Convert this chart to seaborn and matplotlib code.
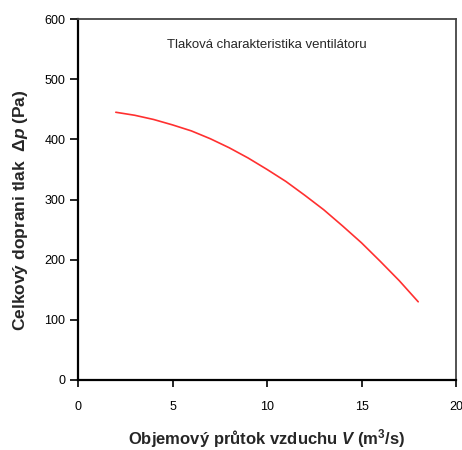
import matplotlib
matplotlib.use("Agg")
import matplotlib.pyplot as plt
import seaborn as sns
import pandas as pd

# Data
flow = [2, 3, 4, 5, 6, 7, 8, 9, 10, 11, 12, 13, 14, 15, 16, 17, 18]
pressure = [445, 440, 433, 424, 414, 401, 386, 369, 350, 330, 307, 283, 256, 228, 197, 165, 130]
xticks = [0, 5, 10, 15, 20]
yticks = [0, 100, 200, 300, 400, 500, 600]

sns.set_style("white")
fam = "Liberation Sans"
plt.rcParams["font.family"] = [fam, "DejaVu Sans"]
plt.rcParams["mathtext.fontset"] = "custom"
plt.rcParams["mathtext.it"] = f"{fam}:italic:bold"
plt.rcParams["mathtext.rm"] = f"{fam}:bold"

df = pd.DataFrame({"V": flow, "p": pressure})

fig = plt.figure(figsize=(4.62, 4.5), dpi=100)
ax = fig.add_axes([78/462, 70/450, (456-78)/462, (380-19)/450])
sns.lineplot(data=df, x="V", y="p", ax=ax, color="#ff3030", linewidth=1.2)

ax.set_xlim(0, 20)
ax.set_ylim(0, 600)
ax.set_xticks(xticks)
ax.set_yticks(yticks)
ax.tick_params(axis="x", direction="out", length=5, width=1.2, pad=10, labelsize=9, colors="black")
ax.tick_params(axis="y", direction="out", length=6, width=1.2, pad=3, labelsize=9, colors="black")
ax.tick_params(bottom=True, left=True)
for s in ["left", "bottom"]:
    ax.spines[s].set_color("black")
    ax.spines[s].set_linewidth(1.6)
for s in ["top", "right"]:
    ax.spines[s].set_color("#444444")
    ax.spines[s].set_linewidth(1.3)

ax.set_xlabel(r"Objemový průtok vzduchu $V$ (m$^3$/s)", fontsize=12, fontweight="bold", labelpad=10)
ax.set_ylabel(r"Celkový doprani tlak  $\Delta p$ (Pa)", fontsize=12.5, fontweight="bold")
ax.yaxis.set_label_coords(-0.127, 0.47)
ax.text(0.5, 0.928, "Tlaková charakteristika ventilátoru", transform=ax.transAxes,
        ha="center", va="center", fontsize=9.5)

fig.savefig("out.png", dpi=100)
